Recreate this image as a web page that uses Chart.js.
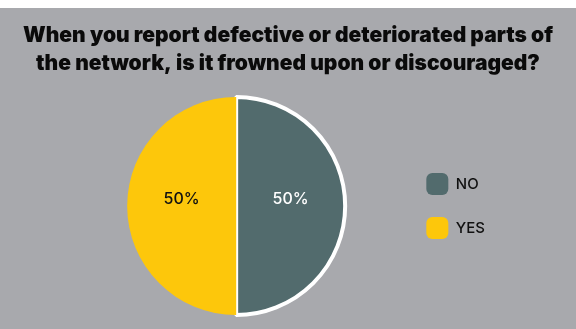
<!DOCTYPE html>
<html>
<head>
<meta charset="utf-8">
<script src="https://cdn.jsdelivr.net/npm/chart.js@4.4.1/dist/chart.umd.min.js"></script>
<style>
  html, body { margin: 0; padding: 0; background: #ffffff; }
  .wrap { position: relative; width: 576px; height: 321px; margin-top: 8px; background: #a8a9ad; }
</style>
</head>
<body>
<div class="wrap"><canvas id="reportChart"></canvas></div>
<script>
  // survey answers
  const answers = ['NO', 'YES'];
  const shares = [50, 50];
  const sliceColors = ['#526b6d', '#fdc70b'];
  const labelColors = ['#ffffff', '#111111'];
  const questionLines = [
    'When you report defective or deteriorated parts of',
    'the network, is it frowned upon or discouraged?'
  ];

  // question drawn across the full width, above the pie
  const questionTitle = {
    id: 'questionTitle',
    afterDraw(chart) {
      const ctx = chart.ctx;
      ctx.save();
      ctx.font = '900 21px Inter';
      ctx.fillStyle = '#0a0a0a';
      ctx.textAlign = 'center';
      ctx.textBaseline = 'alphabetic';
      questionLines.forEach(function (line, i) {
        ctx.fillText(line, chart.width / 2, 34 + i * 28);
      });
      ctx.restore();
    }
  };

  // "50%" text inside each slice
  const sliceLabels = {
    id: 'sliceLabels',
    afterDatasetsDraw(chart) {
      const ctx = chart.ctx;
      const meta = chart.getDatasetMeta(0);
      ctx.save();
      ctx.font = '500 16px Inter';
      ctx.textAlign = 'center';
      ctx.textBaseline = 'middle';
      meta.data.forEach(function (arc, i) {
        const pos = arc.tooltipPosition();
        ctx.fillStyle = labelColors[i];
        ctx.fillText(shares[i] + '%', pos.x, pos.y - 7);
      });
      ctx.restore();
    }
  };

  new Chart(document.getElementById('reportChart'), {
    type: 'pie',
    data: {
      labels: answers,
      datasets: [{
        data: shares,
        backgroundColor: sliceColors,
        borderColor: ['#ffffff', 'rgba(0,0,0,0)'],
        borderWidth: [4, 0]
      }]
    },
    options: {
      responsive: true,
      maintainAspectRatio: false,
      animation: false,
      layout: {
        padding: { top: 87, left: 68, right: 81, bottom: 12 }
      },
      plugins: {
        title: { display: false },
        legend: {
          position: 'right',
          fullSize: false,
          labels: {
            color: '#111111',
            font: { family: 'Inter', size: 15, weight: '500' },
            boxWidth: 22,
            boxHeight: 22,
            useBorderRadius: true,
            padding: 22,
            generateLabels(chart) {
              return answers.map(function (name, i) {
                return {
                  text: name,
                  fillStyle: sliceColors[i],
                  strokeStyle: sliceColors[i],
                  lineWidth: 0,
                  borderRadius: 6,
                  fontColor: '#111111',
                  hidden: false,
                  index: i
                };
              });
            }
          }
        },
        tooltip: { enabled: false }
      }
    },
    plugins: [questionTitle, sliceLabels]
  });
</script>
</body>
</html>
